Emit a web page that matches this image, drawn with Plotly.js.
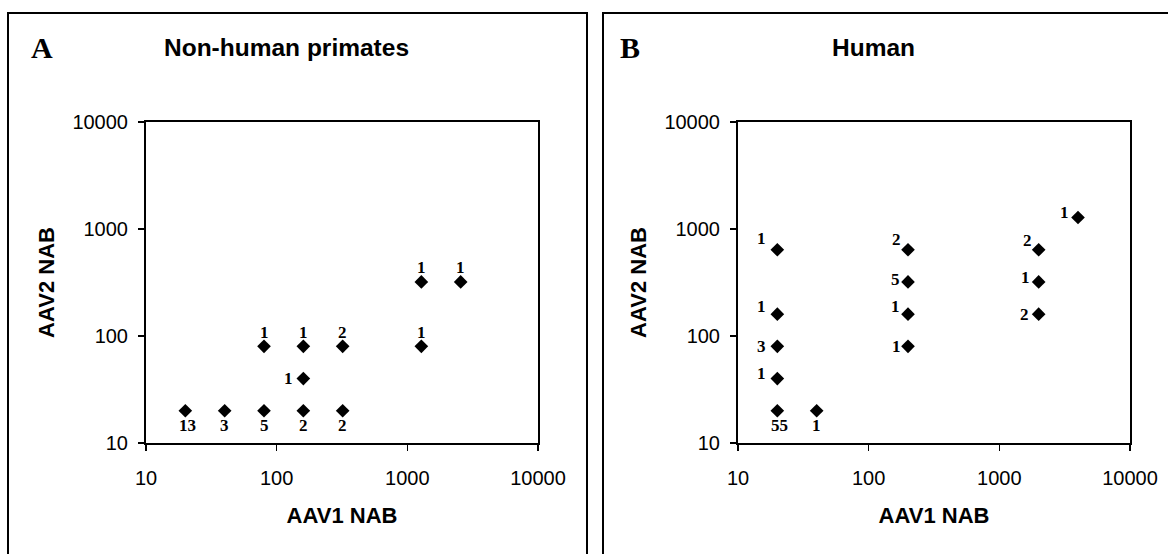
<!DOCTYPE html>
<html><head><meta charset="utf-8">
<script src="https://cdn.plot.ly/plotly-3.0.1.min.js"></script>
<style>html,body{margin:0;padding:0;background:#fff}#chart{width:1168px;height:554px}</style>
</head><body><div id="chart"></div>
<script>
// Panel A: non-human primates
const nhpAAV1 = [20, 40, 80, 160, 320, 80, 160, 320, 160, 1280, 1280, 2560];
const nhpAAV2 = [20, 20, 20, 20, 20, 80, 80, 80, 40, 80, 320, 320];
const nhpCount = [13, 3, 5, 2, 2, 1, 1, 2, 1, 1, 1, 1];
// Panel B: human
const humAAV1 = [20, 20, 20, 20, 20, 40, 200, 200, 200, 200, 2000, 2000, 2000, 4000];
const humAAV2 = [20, 40, 80, 160, 640, 20, 80, 160, 320, 640, 160, 320, 640, 1280];
const humCount = [55, 1, 3, 1, 1, 1, 1, 1, 5, 2, 2, 1, 2, 1];
// Axis ticks
const tickVals = [10, 100, 1000, 10000];
const tickText = ['10', '100', '1000', '10000'];
const panelTitles = ['Non-human primates', 'Human'];
const panelLetters = ['A', 'B'];
const xTitle = 'AAV1 NAB';
const yTitle = 'AAV2 NAB';

// count-label offsets from each marker, in px (style only)
const nhpDX = [2, 0, 0, 0, 0, 0, 0, 0, -15, 0, 0, 0];
const nhpDY = [-15, -15, -15, -15, -15, 14, 14, 14, 0, 14, 14, 14];
const humDX = [2, -16, -16, -16, -16, 0, -12, -13, -13, -12, -14, -13, -11, -14];
const humDY = [-15, 5, 0, 8, 11, -15, 0, 8, 2, 10, 0, 4, 9, 5];

const W = 1168, H = 554;
const mL = 146, mR = 38, mT = 122, mB = 111;
const plotW = W - mL - mR;
const ppx = v => (v - mL) / plotW;
const ppy = v => (H - mB - v) / (H - mT - mB);

const markerStyle = {symbol: 'diamond', size: 10.5, color: '#000'};
const numFont = {family: 'Liberation Serif, Times New Roman, serif', size: 17, color: '#000'};

const traces = [
  {x: nhpAAV1, y: nhpAAV2, mode: 'markers', type: 'scatter',
   xaxis: 'x', yaxis: 'y', marker: markerStyle, cliponaxis: false, showlegend: false},
  {x: humAAV1, y: humAAV2, mode: 'markers', type: 'scatter',
   xaxis: 'x2', yaxis: 'y2', marker: markerStyle, cliponaxis: false, showlegend: false}
];

function countLabels(xs, ys, ns, dx, dy, xr, yr) {
  return ns.map((n, i) => ({
    xref: xr, yref: yr, x: Math.log10(xs[i]), y: Math.log10(ys[i]),
    text: '<b>' + n + '</b>', showarrow: false, xanchor: 'center', yanchor: 'middle',
    xshift: dx[i], yshift: dy[i], font: numFont
  }));
}

const tickFont = {family: 'Liberation Sans, Arial, sans-serif', size: 20, color: '#000'};
const titleFont = {family: 'Liberation Sans, Arial, sans-serif', size: 22, color: '#000'};
function xAx(domain, anchor) {
  return {type: 'log', range: [1, 4], domain: domain, anchor: anchor,
    showline: true, linecolor: '#000', linewidth: 2, mirror: true,
    ticks: 'outside', ticklen: 6, tickwidth: 1.5, tickcolor: '#000',
    tickvals: tickVals, ticktext: tickText, tickfont: tickFont, ticklabelstandoff: 10,
    showgrid: false, zeroline: false,
    title: {text: '<b>' + xTitle + '</b>', font: titleFont, standoff: 20}};
}
function yAx(anchor) {
  return {type: 'log', range: [1, 4], domain: [0, 1], anchor: anchor,
    showline: true, linecolor: '#000', linewidth: 2, mirror: true,
    ticks: 'outside', ticklen: 6, tickwidth: 1.5, tickcolor: '#000',
    tickvals: tickVals, ticktext: tickText, tickfont: tickFont, ticklabelstandoff: 6,
    showgrid: false, zeroline: false,
    title: {text: '<b>' + yTitle + '</b>', font: titleFont, standoff: 12}};
}

const d1 = [0, ppx(538)], d2 = [ppx(738), 1];

const boxes = [[8, 587], [603, 1180]].map(([a, b]) => ({
  type: 'rect', xref: 'paper', yref: 'paper',
  x0: ppx(a), x1: ppx(b), y0: ppy(560), y1: ppy(13),
  line: {color: '#000', width: 2}, fillcolor: 'rgba(0,0,0,0)', layer: 'above'
}));

const annots = [
  {text: '<b>' + panelLetters[0] + '</b>', x: ppx(29), y: ppy(47), xanchor: 'left', yanchor: 'middle'},
  {text: '<b>' + panelLetters[1] + '</b>', x: ppx(618), y: ppy(47), xanchor: 'left', yanchor: 'middle'},
].map(a => Object.assign(a, {xref: 'paper', yref: 'paper', showarrow: false,
  font: {family: 'Liberation Serif, Times New Roman, serif', size: 30, color: '#000'}}))
.concat([
  {text: '<b>' + panelTitles[0] + '</b>', x: ppx(286), y: ppy(48)},
  {text: '<b>' + panelTitles[1] + '</b>', x: ppx(873), y: ppy(48)},
].map(a => Object.assign(a, {xref: 'paper', yref: 'paper', showarrow: false,
  xanchor: 'center', yanchor: 'middle',
  font: {family: 'Liberation Sans, Arial, sans-serif', size: 24.5, color: '#000'}})))
.concat(countLabels(nhpAAV1, nhpAAV2, nhpCount, nhpDX, nhpDY, 'x', 'y'))
.concat(countLabels(humAAV1, humAAV2, humCount, humDX, humDY, 'x2', 'y2'));

const layout = {
  width: W, height: H,
  margin: {l: mL, r: mR, t: mT, b: mB, pad: 0},
  paper_bgcolor: '#fff', plot_bgcolor: '#fff',
  showlegend: false,
  xaxis: xAx(d1, 'y'), yaxis: yAx('x'),
  xaxis2: xAx(d2, 'y2'), yaxis2: yAx('x2'),
  shapes: boxes,
  annotations: annots
};

Plotly.newPlot('chart', traces, layout, {displayModeBar: false, staticPlot: true});
</script></body></html>
